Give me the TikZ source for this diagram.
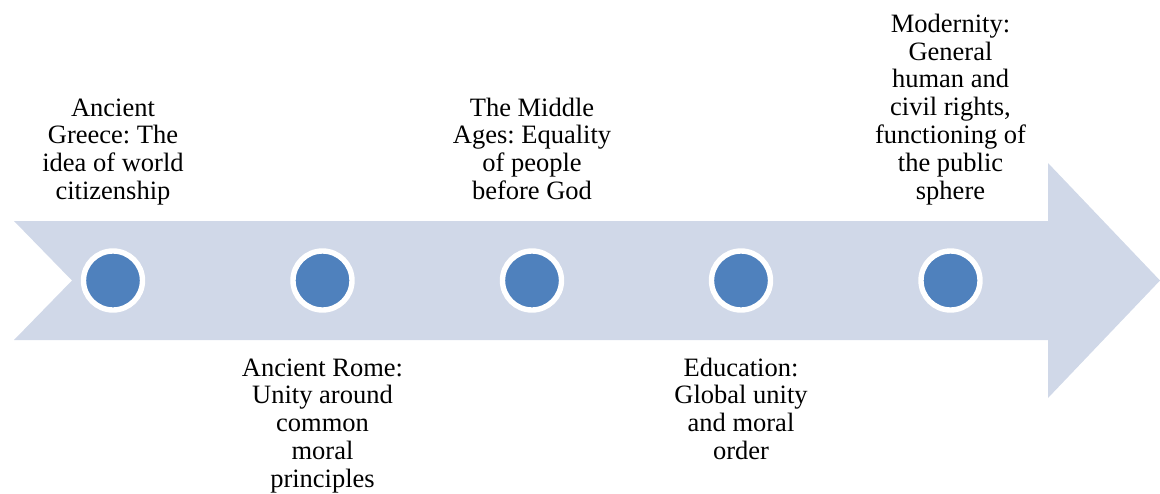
\documentclass[tikz,border=0pt]{standalone}
\usepackage{fontspec}
\setmainfont{Liberation Serif}
\frenchspacing
\definecolor{arrowfill}{HTML}{D0D8E8}
\definecolor{dotblue}{HTML}{4F81BD}
\begin{document}
\begin{tikzpicture}[x=1pt,y=-1pt,
  dot/.style={circle,fill=dotblue,draw=white,line width=5.4pt,minimum size=59pt,inner sep=0pt},
  lbl/.style={align=center,inner sep=0pt,anchor=base,font=\fontsize{26.5}{27.8}\selectfont}]
\useasboundingbox (0,0) rectangle (1160,493);
\fill[arrowfill] (14,221) -- (1048,221) -- (1048,163) -- (1160,280.5) -- (1048,398) -- (1048,340) -- (14,340) -- (72,280.5) -- cycle;
\foreach \i/\x in {1/113,2/322.5,3/532,4/741,5/950.5}
  \node[dot] (d\i) at (\x,280.5) {};
\node[lbl] (t1) at (113,199.5) {Ancient\\Greece: The\\idea of world\\citizenship};
\node[lbl] (t2) at (322.5,487.2) {Ancient Rome:\\Unity around\\common\\moral\\principles};
\node[lbl] (t3) at (532,199.5) {The Middle\\Ages: Equality\\of people\\before God};
\node[lbl] (t4) at (741,459.4) {Education:\\Global unity\\and moral\\order};
\node[lbl] (t5) at (950.5,199) {Modernity:\\General\\human and\\civil rights,\\functioning of\\the public\\sphere};
\end{tikzpicture}
\end{document}
